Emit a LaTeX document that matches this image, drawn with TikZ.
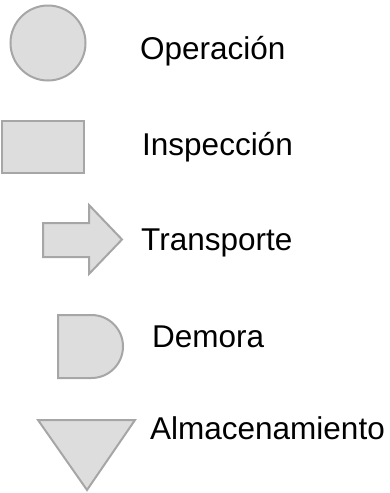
\documentclass[tikz,border=0pt]{standalone}
\usepackage{fontspec}
\setmainfont{Liberation Sans}
\definecolor{shapefill}{HTML}{DDDDDD}
\definecolor{shapeline}{HTML}{A6A6A6}
\begin{document}
\begin{tikzpicture}[x=1pt,y=-1pt,
  sym/.style={draw=shapeline,fill=shapefill,line width=2pt,line join=miter},
  lbl/.style={anchor=base west,inner sep=0pt,font=\fontsize{31.5}{36}\selectfont}]
\useasboundingbox (0,0) rectangle (390,493);
% Operacion
\draw[sym] (48,43) circle (37.5);
\node[lbl] (op) at (140,59) {Operación};
% Inspeccion
\draw[sym] (1.5,120.5) rectangle (83.5,173);
\node[lbl] (insp) at (142,155) {Inspección};
% Transporte
\draw[sym] (43,223) -- (89,223) -- (89,205) -- (122,239.5) -- (89,274) -- (89,257) -- (43,257) -- cycle;
\node[lbl] (tr) at (141,250) {Transporte};
% Demora
\draw[sym] (58,315) -- (91.5,315) arc[start angle=-90,end angle=90,radius=31.5] -- (58,378) -- cycle;
\node[lbl] (dem) at (152,347) {Demora};
% Almacenamiento
\draw[sym] (38,420) -- (135,420) -- (87,490) -- cycle;
\node[lbl] (alm) at (150,439) {Almacenamiento};
\end{tikzpicture}
\end{document}
